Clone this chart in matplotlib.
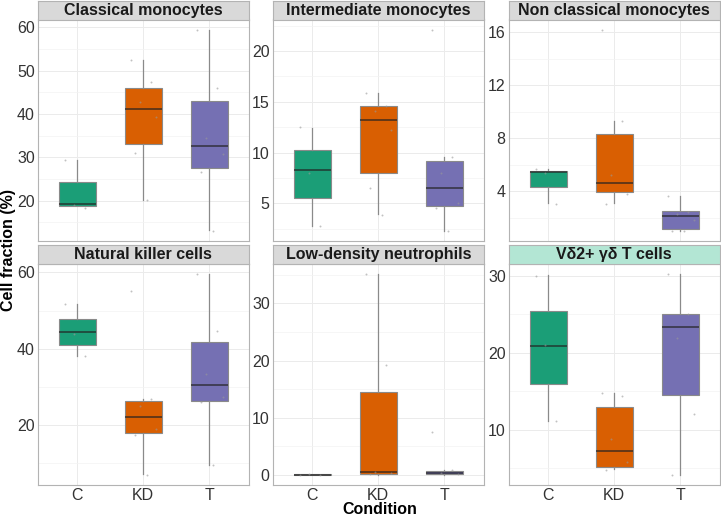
import matplotlib.pyplot as plt
from matplotlib.ticker import MultipleLocator
import numpy as np

plt.rcParams['font.family'] = ['Liberation Sans', 'DejaVu Sans']

# facets
titles = ['Classical monocytes', 'Intermediate monocytes', 'Non classical monocytes',
          'Natural killer cells', 'Low-density neutrophils', 'V\u03b42+ \u03b3\u03b4 T cells']
conditions = ['C', 'KD', 'T']
colors = ['#1B9E77', '#D95F02', '#7570B3']

# box stats per facet, per condition: [whislo, q1, med, q3, whishi]
stats_classical = [[18.7, 18.7, 19.3, 24.2, 29.3], [20.2, 33.1, 41.1, 46.1, 52.4], [13.1, 27.5, 32.5, 43.0, 59.5]]
stats_intermed = [[2.8, 5.5, 8.25, 10.3, 12.45], [4.0, 8.0, 13.25, 14.55, 15.9], [2.3, 4.75, 6.55, 9.2, 9.6]]
stats_nonclass = [[3.1, 4.28, 5.44, 5.56, 5.64], [3.1, 3.93, 4.63, 8.3, 9.3], [1.0, 1.17, 2.13, 2.54, 3.6]]
stats_nk = [[38.1, 41.1, 44.3, 47.9, 51.8], [7.2, 18.1, 22.2, 26.3, 26.8], [9.5, 26.4, 30.5, 41.8, 59.7]]
stats_ldn = [[0.0, 0.0, 0.05, 0.1, 0.1], [0.0, 0.1, 0.5, 14.5, 35.2], [0.0, 0.1, 0.3, 0.65, 0.8]]
stats_vd2 = [[11.1, 16.0, 20.9, 25.45, 30.1], [4.9, 5.2, 7.2, 13.0, 14.75], [4.15, 14.5, 23.3, 25.0, 30.3]]

# outliers
fliers_classical = [[], [], []]
fliers_intermed = [[], [], [22.1]]
fliers_nonclass = [[], [16.2], []]
fliers_nk = [[], [55.1], []]
fliers_ldn = [[], [], [7.45]]
fliers_vd2 = [[], [], []]

# jittered sample points
pts_classical = [[29.3, 18.2, 19.0], [52.4, 47.3, 42.7, 39.3, 31.0, 20.2], [59.5, 45.9, 34.4, 30.7, 26.5, 13.0]]
pts_intermed = [[12.5, 2.8, 8.0], [15.9, 14.6, 14.1, 12.2, 6.5, 3.9], [22.1, 9.6, 8.0, 5.0, 4.6, 2.3]]
pts_nonclass = [[5.7, 3.0, 5.4], [16.2, 9.3, 5.2, 3.8, 3.0], [3.6, 2.4, 2.3, 1.8, 1.0, 1.0]]
pts_nk = [[51.8, 38.0, 44.0], [55.1, 26.8, 25.0, 19.0, 17.5, 7.0], [59.7, 44.6, 33.5, 27.3, 26.0, 9.5]]
pts_ldn = [[0.0, 0.05, 0.1], [35.2, 19.3, 0.5, 0.3, 0.1], [7.45, 0.8, 0.3, 0.1]]
pts_vd2 = [[30.0, 11.1, 21.0], [14.8, 14.4, 8.8, 5.8, 4.8], [30.3, 25.0, 21.9, 12.1, 4.2]]

all_stats = [stats_classical, stats_intermed, stats_nonclass, stats_nk, stats_ldn, stats_vd2]
all_fliers = [fliers_classical, fliers_intermed, fliers_nonclass, fliers_nk, fliers_ldn, fliers_vd2]
all_pts = [pts_classical, pts_intermed, pts_nonclass, pts_nk, pts_ldn, pts_vd2]
major_step = [10, 5, 4, 20, 10, 10]
strip_fill = ['#D9D9D9'] * 5 + ['#B3E6D4']

W, H = 721, 515
fig = plt.figure(figsize=(W / 100, H / 100), dpi=100)

col_left = [37.5, 272.5, 508.5]
col_w = 211.5
row_strip_top = [0.5, 244.5]
strip_h = 19
panel_h = 221.5

jit = [-0.18, 0.12, -0.05, 0.2, -0.12, 0.06]

for i in range(6):
    r, c = divmod(i, 3)
    x0 = col_left[c]
    st = row_strip_top[r]
    ptop = st + strip_h
    ax = fig.add_axes([x0 / W, 1 - (ptop + panel_h) / H, col_w / W, panel_h / H])
    sax = fig.add_axes([x0 / W, 1 - ptop / H, col_w / W, strip_h / H])
    sax.set_xticks([]); sax.set_yticks([])
    sax.set_facecolor(strip_fill[i])
    for s in sax.spines.values():
        s.set_color('#B3B3B3'); s.set_linewidth(0.8)
    sax.text(0.5, 0.45, titles[i], ha='center', va='center', fontsize=11.5,
             fontweight='bold', color='#1a1a1a', transform=sax.transAxes)

    bstats = []
    for k in range(3):
        lo, q1, med, q3, hi = all_stats[i][k]
        bstats.append(dict(whislo=lo, q1=q1, med=med, q3=q3, whishi=hi,
                           fliers=all_fliers[i][k], label=conditions[k]))
    bp = ax.bxp(bstats, positions=[1, 2, 3], widths=0.56, patch_artist=True,
                showcaps=False, showfliers=False,
                boxprops=dict(edgecolor='#8a8a8a', linewidth=0.8),
                whiskerprops=dict(color='#8a8a8a', linewidth=0.9),
                medianprops=dict(color='#222222', linewidth=1.2, alpha=0.75), zorder=2)
    for patch, col in zip(bp['boxes'], colors):
        patch.set_facecolor(col)
    for k in range(3):
        ys = all_pts[i][k]
        xs = [k + 1 + jit[j % len(jit)] for j in range(len(ys))]
        ax.scatter(xs, ys, s=2, color='#999999', alpha=0.6, zorder=3, linewidths=0)

    ax.set_xlim(0.4, 3.6)
    ax.margins(y=0.05)
    ax.yaxis.set_major_locator(MultipleLocator(major_step[i]))
    ax.yaxis.set_minor_locator(MultipleLocator(major_step[i] / 2))
    ax.set_xticks([1, 2, 3])
    ax.set_xticklabels(conditions if r == 1 else [])
    ax.grid(True, which='major', color='#EBEBEB', linewidth=0.7, zorder=0)
    ax.grid(True, which='minor', axis='y', color='#F3F3F3', linewidth=0.5, zorder=0)
    ax.set_axisbelow(True)
    ax.tick_params(axis='both', which='both', length=0, labelsize=11.5,
                   labelcolor='#333333', pad=2)
    ax.tick_params(axis='x', pad=2)
    for s in ax.spines.values():
        s.set_color('#B3B3B3'); s.set_linewidth(0.8)

fig.text(380 / W, 1 - 509 / H, 'Condition', ha='center', va='center',
         fontsize=11.5, fontweight='bold')
fig.text(9 / W, 1 - 250 / H, 'Cell fraction (%)', ha='center', va='center',
         rotation=90, fontsize=11.5, fontweight='bold')

fig.savefig('out.png', dpi=100)
